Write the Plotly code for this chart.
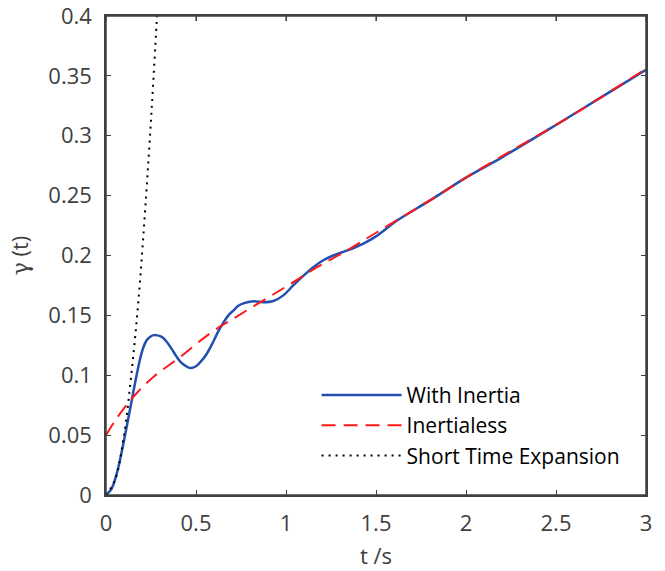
import plotly.graph_objects as go

# With Inertia (blue)
t_inertia = [0, 0.03, 0.06, 0.09, 0.115, 0.143, 0.17, 0.19, 0.207, 0.225, 0.244, 0.265, 0.285,
             0.31, 0.337, 0.365, 0.39, 0.415, 0.44, 0.47, 0.5, 0.53, 0.56, 0.596, 0.625, 0.652,
             0.68, 0.707, 0.735, 0.763, 0.818, 0.874, 0.93, 0.985, 1.04, 1.096, 1.15, 1.207,
             1.263, 1.337, 1.43, 1.5, 1.615, 1.8, 2.0, 2.2, 2.5, 2.75, 3.0]
y_inertia = [0, 0.005, 0.018, 0.038, 0.057, 0.079, 0.100, 0.114, 0.123, 0.129, 0.132, 0.1335, 0.1333,
             0.132, 0.128, 0.122, 0.116, 0.111, 0.108, 0.106, 0.1075, 0.112, 0.118, 0.128, 0.137, 0.144,
             0.150, 0.154, 0.158, 0.160, 0.1617, 0.161, 0.162, 0.1667, 0.175, 0.183, 0.190, 0.196,
             0.200, 0.204, 0.210, 0.216, 0.229, 0.246, 0.265, 0.282, 0.309, 0.332, 0.355]

# Inertialess (red dashed)
t_inertialess = [0, 0.05, 0.106, 0.17, 0.263, 0.41, 0.578, 0.726, 0.874, 1.022, 1.17, 1.337,
                 1.5, 1.8, 2.0, 2.2, 2.5, 2.75, 3.0]
y_inertialess = [0.05, 0.062, 0.0736, 0.085, 0.0986, 0.115, 0.135, 0.149, 0.1625, 0.176, 0.19, 0.204,
                 0.219, 0.246, 0.265, 0.283, 0.309, 0.332, 0.356]

# Short time expansion (black dotted)
t_short = [0, 0.05, 0.1, 0.143, 0.18, 0.222, 0.254, 0.281, 0.29]
y_short = [0, 0.0125, 0.05, 0.104, 0.162, 0.248, 0.323, 0.394, 0.42]

x_ticks = [0, 0.5, 1, 1.5, 2, 2.5, 3]
x_ticktext = ["0", "0.5", "1", "1.5", "2", "2.5", "3"]
y_ticks = [0, 0.05, 0.1, 0.15, 0.2, 0.25, 0.3, 0.35, 0.4]
y_ticktext = ["0", "0.05", "0.1", "0.15", "0.2", "0.25", "0.3", "0.35", "0.4"]

FONT = "Open Sans"
GRAY = "#404040"

fig = go.Figure()
fig.add_trace(go.Scatter(x=t_inertia, y=y_inertia, mode="lines", name="With Inertia",
                         legendgroup="a",
                         line=dict(color="#2350b0", width=2.5, shape="spline")))
fig.add_trace(go.Scatter(x=t_inertialess, y=y_inertialess, mode="lines", name="Inertialess",
                         legendgroup="b",
                         line=dict(color="#ff1a1a", width=2, dash="14px,8px", shape="spline")))
fig.add_trace(go.Scatter(x=t_short, y=y_short, mode="lines", name="Short Time Expansion",
                         legendgroup="c",
                         line=dict(color="black", width=2, dash="2px,5px", shape="spline")))

axis_common = dict(showgrid=False, zeroline=False, showline=True, linecolor=GRAY, linewidth=1.5,
                   mirror="ticks", ticks="inside", ticklen=5, tickwidth=1.2, tickcolor=GRAY,
                   automargin=False, ticklabeloverflow="allow",
                   tickfont=dict(family=FONT, size=22, color=GRAY))

fig.update_xaxes(range=[0, 3], tickvals=x_ticks, ticktext=x_ticktext,
                 title=dict(text="t /s", font=dict(family=FONT, size=22, color=GRAY), standoff=12),
                 ticklabelstandoff=8, **axis_common)
fig.update_yaxes(range=[0, 0.4], tickvals=y_ticks, ticktext=y_ticktext,
                 title=dict(text='<span style="font-family:DejaVu Serif">γ</span> (t)',
                            font=dict(family=FONT, size=22, color=GRAY), standoff=14),
                 ticklabelstandoff=8, **axis_common)

# frame around the axes (MATLAB box)
fig.add_shape(type="rect", xref="paper", yref="paper", x0=0, y0=0, x1=1, y1=1,
              line=dict(color=GRAY, width=1.5), layer="above")
# top-edge inside ticks (box ticks)
for xv in x_ticks:
    fig.add_shape(type="line", xref="x", yref="paper", x0=xv, x1=xv,
                  ysizemode="pixel", yanchor=1, y0=0, y1=-5,
                  line=dict(color=GRAY, width=1.2), layer="above")

fig.update_layout(
    width=665, height=571,
    margin=dict(l=106, r=19, t=16, b=76),
    paper_bgcolor="white", plot_bgcolor="white",
    showlegend=True,
    legend=dict(x=0.39, y=0.04, xanchor="left", yanchor="bottom",
                traceorder="grouped", tracegroupgap=0,
                bgcolor="rgba(0,0,0,0)", borderwidth=0, itemwidth=80,
                font=dict(family=FONT, size=21, color="black")),
)

fig.write_html("out.html")
